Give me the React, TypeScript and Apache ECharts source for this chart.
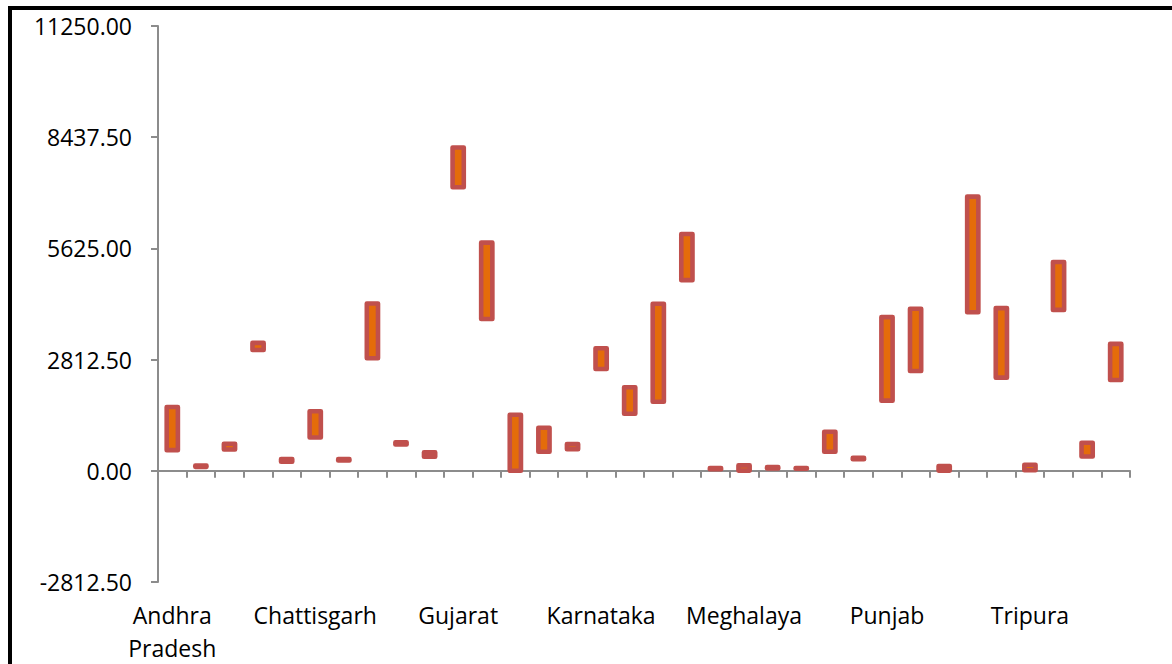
import React, { useEffect, useRef } from "react";
import * as echarts from "echarts";

const categories: string[] = [
  "Andhra\nPradesh", "Arunachal Pradesh", "Assam", "Bihar", "Chandigarh",
  "Chattisgarh", "Dadra & Nagar Haveli", "Daman & Diu", "Delhi", "Goa",
  "Gujarat", "Haryana", "Himachal Pradesh", "Jammu & Kashmir", "Jharkhand",
  "Karnataka", "Kerala", "Madhya Pradesh", "Maharashtra", "Manipur",
  "Meghalaya", "Mizoram", "Nagaland", "Odisha", "Puducherry",
  "Punjab", "Rajasthan", "Sikkim", "Tamil Nadu", "Telangana",
  "Tripura", "Uttar Pradesh", "Uttarakhand", "West Bengal",
];

const lowValues: number[] = [
  522, 100, 540, 3056, 228, 841, 261, 2845, 666, 355,
  7171, 3841, 0, 481, 547, 2575, 1444, 1748, 4822, 40,
  5, 58, 50, 481, 294, 1774, 2524, 5, 4011, 2356,
  15, 4069, 362, 2296,
];

const highValues: number[] = [
  1615, 130, 685, 3235, 297, 1505, 297, 4232, 720, 466,
  8177, 5770, 1419, 1090, 677, 3101, 2113, 4224, 5990, 68,
  137, 94, 70, 988, 329, 3887, 4097, 119, 6935, 4115,
  152, 5280, 709, 3210,
];

const yMin = -2812.5;
const yMax = 11250;
const yStep = 2812.5;

export default function App() {
  const ref = useRef<HTMLDivElement>(null);

  useEffect(() => {
    if (!ref.current) return;
    const chart = echarts.init(ref.current, undefined, { renderer: "svg" });
    const data = categories.map((_, i) => [i, lowValues[i], highValues[i]]);
    const font = "'Open Sans', sans-serif";
    chart.setOption({
      animation: false,
      backgroundColor: "#ffffff",
      grid: { left: 158, right: 42, top: 26, bottom: 78 },
      xAxis: [
        {
          type: "category",
          data: categories,
          boundaryGap: true,
          axisLine: { show: true, onZero: true, lineStyle: { color: "#8c8c8c", width: 2 } },
          axisTick: { show: true, length: 7, interval: 0, lineStyle: { color: "#8c8c8c", width: 2 } },
          axisLabel: { show: false },
          splitLine: { show: false },
        },
        {
          type: "category",
          data: categories,
          position: "bottom",
          boundaryGap: true,
          axisLine: { show: false, onZero: false },
          axisTick: { show: false },
          axisLabel: {
            show: true,
            interval: 4,
            margin: 16,
            color: "#000000",
            fontFamily: font,
            fontSize: 23,
            lineHeight: 33,
          },
          splitLine: { show: false },
        },
      ],
      yAxis: {
        type: "value",
        min: yMin,
        max: yMax,
        interval: yStep,
        axisLine: { show: true, lineStyle: { color: "#8c8c8c", width: 2 } },
        axisTick: { show: true, length: 7, lineStyle: { color: "#8c8c8c", width: 2 } },
        axisLabel: {
          color: "#000000",
          fontFamily: font,
          fontSize: 23,
          margin: 26,
          formatter: (v: number) => v.toFixed(2),
        },
        splitLine: { show: false },
      },
      series: [
        {
          type: "custom",
          xAxisIndex: 0,
          yAxisIndex: 0,
          data,
          encode: { x: 0, y: [1, 2] },
          renderItem: (params: any, api: any) => {
            const idx = api.value(0);
            const lo = api.value(1);
            const hi = api.value(2);
            const pTop = api.coord([idx, hi]);
            const pBot = api.coord([idx, lo]);
            const w = 11.2;
            return {
              type: "rect",
              shape: {
                x: pTop[0] - w / 2,
                y: pTop[1],
                width: w,
                height: Math.max(0, pBot[1] - pTop[1]),
              },
              style: {
                fill: "#E46C0A",
                stroke: "#C0504D",
                lineWidth: 4.6,
                lineJoin: "round",
              },
            };
          },
        },
      ],
    });
    return () => chart.dispose();
  }, []);

  return (
    <div
      style={{
        position: "absolute",
        left: 0,
        top: 0,
        width: 1172,
        height: 664,
        overflow: "hidden",
        background: "#ffffff",
      }}
    >
      <div ref={ref} style={{ position: "absolute", left: 0, top: 0, width: 1172, height: 664 }} />
      <div
        style={{
          position: "absolute",
          left: 8,
          top: 6,
          width: 1300,
          height: 800,
          borderTop: "4px solid #000000",
          borderLeft: "4px solid #000000",
          pointerEvents: "none",
        }}
      />
    </div>
  );
}
